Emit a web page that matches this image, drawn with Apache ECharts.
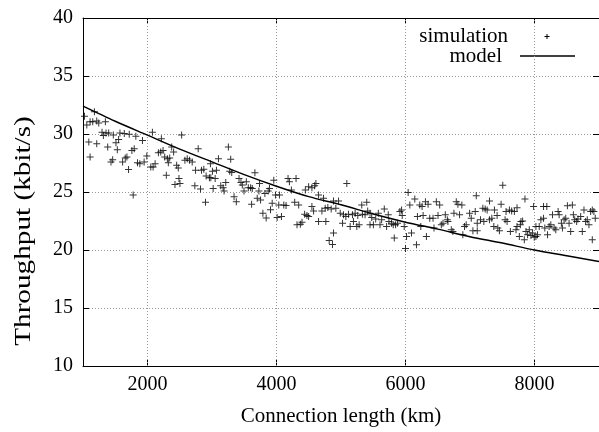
<!DOCTYPE html>
<html><head><meta charset="utf-8">
<script src="https://cdn.jsdelivr.net/npm/echarts@6/dist/echarts.min.js"></script>
<style>html,body{margin:0;padding:0;background:#fff}#c{width:599px;height:432px}</style>
</head><body><div id="c"></div>
<script>
const xTickValues = [2000, 4000, 6000, 8000];
const yTickValues = [10, 15, 20, 25, 30, 35, 40];
const xAxisTitle = 'Connection length (km)';
const yAxisTitle = 'Throughput (kbit/s)';
const legendNames = ['simulation', 'model'];

const simulationKm = [
1023,1059,1110,1177,1151,1213,1244,1347,1090,1213,1110,1295,1316,1357,1398,1470,1573,1640,1717,1819,
1383,1511,1552,1532,1434,1460,1614,1655,1681,1706,1758,1794,1845,1881,1948,1989,1922,1778,2051,2087,
2118,2076,2215,2169,2205,2241,2267,2308,2344,2323,2375,2405,2452,2477,2529,2292,2488,2426,2503,2580,
2616,2652,2693,2786,2745,2837,2873,2734,2822,2909,2960,2899,2976,
3254,3290,3100,3007,3069,2982,3049,3018,3172,3136,3187,3213,3275,3306,3342,3377,3419,3449,3470,3496,
3532,3563,3599,3624,3614,3665,3701,3727,3753,3737,3789,3840,3820,3871,3891,3907,3933,3958,3984,4010,
4046,4077,4035,4113,4148,4179,4200,4231,4303,4282,4344,4318,4370,4395,4447,4498,4549,4591,4611,4436,
4472,4498,4549,4575,4652,4729,4704,4755,4796,4652,4765,4848,4884,4920,4884,4817,4868,
5090,4962,4988,5039,5075,5116,5178,5219,5260,5024,5142,5193,5245,5281,5322,5399,5332,5373,5414,5450,
5476,5450,5502,5538,5579,5605,5630,5671,5707,5733,5743,5784,5810,5846,5877,5826,5913,5939,5949,5980,
6016,6041,6067,6093,6144,6170,6221,6257,6000,6185,6237,6273,6309,6324,6350,6376,6427,6442,6478,6504,
6530,6555,6581,6617,6648,6658,6710,6735,6751,6787,6812,6838,6874,6889,6915,6941,
7508,7097,7302,7482,7611,7646,7729,7852,6994,7019,7081,7112,7163,7199,7235,7266,7215,7045,7112,7302,
7338,7369,7420,7431,7456,7379,7544,7575,7559,7626,7688,7713,7729,7765,7790,7816,7780,7842,7868,7893,
7919,7945,7970,7996,8022,8047,8022,8073,7986,8140,8191,8099,8140,8160,8227,8202,8253,8279,8304,8330,
8366,8382,8417,8433,8459,8484,8510,8536,8561,8587,8603,8623,8654,8674,8716,8741,8767,8793,8818,8844,
8870,8896,8921,8896,8942
];
const simulationThroughput = [
31.52,30.78,31.06,31.92,31.06,31.12,30.95,31.06,29.30,29.15,28.01,30.15,29.87,30.09,30.09,29.92,30.09,30.04,29.98,29.81,
28.87,29.24,29.52,28.64,27.59,27.78,27.59,27.93,28.01,26.93,28.58,28.73,27.53,27.44,27.59,28.10,29.44,24.74,27.16,27.16,
27.44,30.15,29.58,28.38,28.44,28.58,28.01,27.87,27.93,27.53,28.87,28.44,27.30,27.07,29.92,26.45,26.16,25.65,25.73,27.73,
27.87,27.73,27.59,28.73,26.87,26.87,26.96,25.53,25.25,26.39,26.22,24.11,27.44,
28.87,27.82,27.87,26.79,26.88,26.22,26.17,25.31,25.37,25.54,25.08,25.82,26.79,26.68,24.60,24.17,26.17,25.82,25.60,25.08,
25.88,25.37,25.37,25.31,23.94,26.65,24.46,25.08,24.31,25.74,23.17,22.75,24.88,25.08,25.31,23.46,24.03,26.02,24.74,22.80,
24.74,22.89,23.89,23.89,23.83,26.17,25.88,25.17,26.17,24.11,23.89,22.17,22.23,22.40,25.17,25.45,25.37,25.54,25.74,23.09,
22.97,22.89,23.74,23.37,24.74,24.46,23.37,23.60,23.66,22.46,22.46,23.54,24.23,23.60,21.46,20.81,20.47,
25.73,24.22,23.17,23.03,22.88,23.08,23.03,23.17,22.97,22.31,22.03,22.46,22.03,22.17,23.88,24.11,23.08,23.03,23.37,23.17,
22.80,22.17,22.17,22.68,23.17,22.17,22.60,23.54,22.03,23.03,22.46,22.31,22.17,22.17,22.31,21.03,23.31,23.45,22.97,22.03,
21.17,24.96,23.88,21.46,24.39,20.46,23.88,23.74,20.12,22.88,22.03,22.97,24.17,21.17,23.94,22.74,22.74,21.89,24.17,22.97,
23.88,22.17,22.31,23.03,22.60,22.46,21.74,21.60,23.17,24.17,23.94,23.03,23.88,21.31,22.03,22.17,
25.59,24.68,24.22,23.94,23.45,23.37,23.65,24.39,23.17,22.74,23.31,22.31,22.60,23.60,23.54,23.45,22.46,21.66,21.66,22.60,
22.74,22.03,22.97,21.89,21.66,23.45,22.60,22.46,23.31,21.60,23.31,21.74,22.03,21.17,22.46,22.51,22.17,20.89,21.60,21.31,
21.74,21.26,21.46,21.09,21.17,21.31,22.03,22.03,23.74,23.74,23.74,22.60,22.74,21.89,22.03,21.31,22.17,23.03,21.89,21.74,
23.31,23.03,22.31,21.89,22.60,22.74,23.82,22.31,21.60,23.88,23.03,22.60,22.46,22.68,22.88,21.60,23.45,22.46,22.60,22.17,
23.31,23.45,23.31,20.89,22.74
];
const modelKm = [1000,1500,2000,2500,3000,3500,4000,4500,5000,5500,6000,6500,7000,7500,8000,8500,9000];
const modelThroughput = [32.4,31.1,29.9,28.7,27.6,26.5,25.5,24.6,23.9,23.1,22.4,21.8,21.15,20.6,20.0,19.5,19.0];

const FONT = '"Liberation Serif", "Times New Roman", serif';
const chart = echarts.init(document.getElementById('c'), null, {renderer: 'canvas'});
const simData = simulationKm.map((k, i) => [k, simulationThroughput[i]]);
const modelData = modelKm.map((k, i) => [k, modelThroughput[i]]);
const gridStyle = {color: '#999', type: [1, 2], width: 1};
const blackLine = {show: true, lineStyle: {color: '#000', width: 1}};
const innerTick = {show: true, inside: true, length: 6, lineStyle: {color: '#000'}};

chart.setOption({
  animation: false,
  backgroundColor: '#fff',
  grid: {left: 83, right: -2, top: 18, bottom: 63, containLabel: false},
  xAxis: [{
    type: 'value', min: 1000, max: 9000, interval: 1000,
    name: xAxisTitle, nameLocation: 'middle', nameGap: 40,
    nameTextStyle: {fontFamily: FONT, fontSize: 21, color: '#000'},
    axisLine: blackLine,
    axisTick: Object.assign({customValues: xTickValues}, innerTick),
    axisLabel: {customValues: xTickValues, formatter: v => String(v), fontFamily: FONT, fontSize: 20, color: '#000', margin: 9},
    splitLine: {show: false}
  }, {
    type: 'value', position: 'top', min: 1000, max: 9000, interval: 1000,
    axisLine: blackLine,
    axisTick: Object.assign({customValues: xTickValues}, innerTick),
    axisLabel: {show: false},
    splitLine: {show: false}
  }],
  yAxis: [{
    type: 'value', min: 10, max: 40, interval: 5,
    axisLine: blackLine,
    axisTick: innerTick,
    axisLabel: {fontFamily: FONT, fontSize: 20, color: '#000', margin: 10},
    splitLine: {show: true, lineStyle: gridStyle}
  }, {
    type: 'value', position: 'right', min: 10, max: 40, interval: 5,
    axisLine: blackLine,
    axisTick: innerTick,
    axisLabel: {show: false},
    splitLine: {show: false}
  }],
  graphic: [
    {type: 'text', x: 24, y: 231, rotation: Math.PI / 2, scaleX: 1.27,
      style: {text: yAxisTitle, fontFamily: FONT, fontSize: 23, fill: '#000', align: 'center', verticalAlign: 'middle'}},
    {type: 'text', x: 508, y: 36, style: {text: legendNames[0], fontFamily: FONT, fontSize: 21, fill: '#000', align: 'right', verticalAlign: 'middle'}},
    {type: 'text', x: 502, y: 56, style: {text: legendNames[1], fontFamily: FONT, fontSize: 21, fill: '#000', align: 'right', verticalAlign: 'middle'}},
    {type: 'line', shape: {x1: 544.5, y1: 36.5, x2: 549.5, y2: 36.5}, style: {stroke: '#000', lineWidth: 1}},
    {type: 'line', shape: {x1: 547, y1: 34, x2: 547, y2: 39}, style: {stroke: '#000', lineWidth: 1}},
    {type: 'line', shape: {x1: 520, y1: 56, x2: 575, y2: 56}, style: {stroke: '#000', lineWidth: 1.5}}
  ],
  series: [{
    name: legendNames[0], type: 'scatter', data: simData,
    symbol: 'path://M3,0H4V7H3Z M0,3H7V4H0Z', symbolSize: 7,
    itemStyle: {color: '#000'}, z: 2,
    markLine: {
      silent: true, symbol: 'none', label: {show: false}, animation: false,
      lineStyle: gridStyle, z: 1,
      data: xTickValues.map(v => ({xAxis: v}))
    }
  }, {
    name: legendNames[1], type: 'line', data: modelData, smooth: 0.3, showSymbol: false,
    lineStyle: {color: '#000', width: 1.5}, z: 3
  }]
});
</script>
</body></html>
